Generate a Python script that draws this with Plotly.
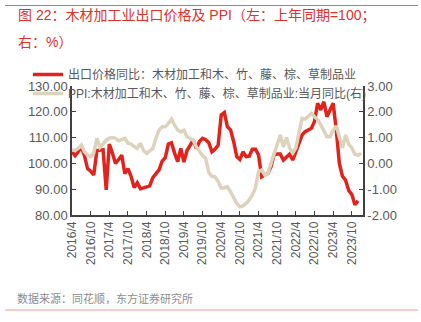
import plotly.graph_objects as go

# Monthly dates 2016/4 .. 2024/1
dates = []
y, m = 2016, 4
for _ in range(94):
    dates.append(f"{y}/{m}")
    m += 1
    if m > 12:
        m = 1
        y += 1

export_price = [104.5, 103.0, 104.5, 106.5, 103.0, 98.0, 97.0, 95.5, 105.0, 105.0,
                105.3, 89.7, 107.5, 104.0, 100.0, 101.5, 103.2, 96.0, 98.0, 95.0,
                90.6, 92.5, 90.2, 90.5, 91.0, 91.3, 94.5, 96.0, 97.5, 100.9,
                102.2, 107.5, 108.0, 104.0, 100.7, 105.8, 100.5, 105.0, 107.0, 109.0,
                105.8, 108.5, 109.7, 109.2, 108.0, 104.5, 105.5, 107.0, 118.8, 119.7,
                114.2, 113.0, 108.4, 102.6, 101.5, 104.5, 102.6, 102.8, 105.5, 105.5,
                103.3, 94.8, 95.5, 96.1, 98.7, 103.3, 103.6, 103.6, 101.3, 102.6,
                103.6, 101.3, 104.5, 108.4, 111.0, 112.3, 112.9, 113.6, 116.2, 123.3,
                120.7, 123.9, 118.1, 120.7, 123.3, 113.0, 100.0, 95.0, 93.5, 89.5,
                88.0, 84.0, 85.5, None]

ppi_yoy = [0.52, 0.50, 0.58, 0.71, 0.45, 0.32, 0.26, 0.40, 0.97, 0.62,
           0.75, 0.90, 0.98, 1.00, 0.97, 0.88, 0.92, 0.97, 0.78, 0.75,
           0.65, 0.58, 0.78, 0.50, 0.39, 0.50, 0.58, 0.97, 1.29, 1.42,
           1.42, 1.55, 1.71, 1.48, 1.29, 1.22, 1.29, 1.03, 0.95, 0.90,
           0.64, 0.45, 0.30, 0.19, -0.35, -0.50, -0.52, -0.70, -0.95, -0.95,
           -0.90, -1.10, -1.30, -1.55, -1.68, -1.65, -1.55, -1.42, -1.23, -0.95,
           -0.32, -0.26, -0.45, -0.39, 0.00, 0.39, 0.78, 1.10, 0.64, 1.00,
           0.60, 0.40, 0.60, 1.10, 1.74, 1.72, 1.81, 1.94, 1.81, 1.70,
           1.50, 1.29, 1.03, 1.03, 1.29, 1.45, 1.00, 0.60, 1.10, 0.75,
           0.60, 0.35, 0.32, 0.39]

xtick_labels = dates[0::6]
left_ticks = [80, 90, 100, 110, 120, 130]
right_ticks = [-2, -1, 0, 1, 2, 3]

name_red = "出口价格同比：木材加工和木、竹、藤、棕、草制品业"
name_ppi = "PPI:木材加工和木、竹、藤、棕、草制品业:当月同比(右)"

FONT = "Liberation Sans, Arial, Noto Sans CJK SC"
RED = "#e2231c"
BEIGE = "#ddd3bd"
GRAY = "#595959"
AXIS = "#404040"

W, H = 421, 322
L, R, T, B = 72, 363, 86, 215

def px_x(p):
    return (p - L) / (R - L)

def px_y(p):
    return (B - p) / (B - T)

fig = go.Figure()
fig.add_trace(go.Scatter(x=dates, y=export_price, name=name_red, mode="lines",
                         line=dict(color=RED, width=3.5), yaxis="y"))
fig.add_trace(go.Scatter(x=dates, y=ppi_yoy, name=name_ppi, mode="lines",
                         line=dict(color=BEIGE, width=3.5), yaxis="y2"))

fig.update_layout(
    width=W, height=H, autosize=False,
    margin=dict(l=L, r=W - R, t=T, b=H - B, pad=0),
    paper_bgcolor="white", plot_bgcolor="white",
    font=dict(family=FONT, color=GRAY, size=12),
    showlegend=True,
    legend=dict(x=px_x(28), y=px_y(60), xanchor="left", yanchor="top",
                bgcolor="rgba(0,0,0,0)", font=dict(size=12, color=GRAY),
                itemwidth=30, tracegroupgap=0),
    xaxis=dict(type="category", categoryorder="array", categoryarray=dates,
               range=[0, 93.6], tickvals=xtick_labels, ticktext=xtick_labels,
               tickangle=-90, ticks="inside", ticklen=4, tickcolor=AXIS,
               showline=True, linecolor=AXIS, linewidth=1.5, showgrid=False,
               zeroline=False, tickfont=dict(size=12, color=GRAY)),
    yaxis=dict(range=[80, 130], tickvals=left_ticks,
               ticktext=[f"{v:.2f}" for v in left_ticks],
               ticks="inside", ticklen=4, tickcolor=AXIS, showline=True,
               linecolor=AXIS, linewidth=1.5, showgrid=False, zeroline=False,
               tickfont=dict(size=13, color=GRAY)),
    yaxis2=dict(range=[-2, 3], overlaying="y", side="right", tickvals=right_ticks,
                ticktext=[f"{v:.2f}" for v in right_ticks],
                ticks="inside", ticklen=4, tickcolor=AXIS, showline=True,
                linecolor=AXIS, linewidth=1.5, showgrid=False, zeroline=False,
                tickfont=dict(size=13, color=GRAY)),
)

title1 = "图 22：木材加工业出口价格及 PPI（左：上年同期=100；"
title2 = "右：%）"
fig.add_annotation(text=title1, xref="paper", yref="paper", x=px_x(16), y=px_y(16),
                   xanchor="left", yanchor="middle", showarrow=False,
                   font=dict(size=14, color="#e0302a", family=FONT))
fig.add_annotation(text=title2, xref="paper", yref="paper", x=px_x(16), y=px_y(42),
                   xanchor="left", yanchor="middle", showarrow=False,
                   font=dict(size=14, color="#e0302a", family=FONT))
fig.add_annotation(text="数据来源：同花顺，东方证券研究所", xref="paper", yref="paper",
                   x=px_x(15), y=px_y(298), xanchor="left", yanchor="middle",
                   showarrow=False, font=dict(size=11, color="#8c8c8c", family=FONT))

fig.add_shape(type="line", xref="paper", yref="paper", x0=px_x(5), x1=px_x(418),
              y0=px_y(5.5), y1=px_y(5.5), line=dict(color="#e8675e", width=1.2))
fig.add_shape(type="line", xref="paper", yref="paper", x0=px_x(5), x1=px_x(418),
              y0=px_y(310), y1=px_y(310), line=dict(color="#f29a92", width=1.2))

fig.write_html("out.html")
